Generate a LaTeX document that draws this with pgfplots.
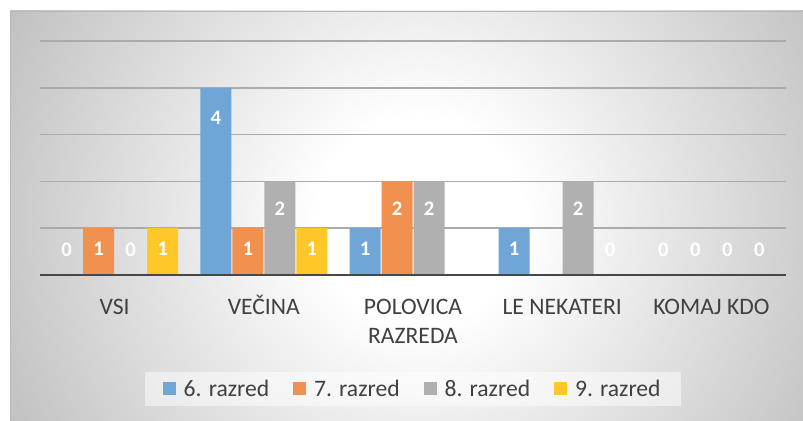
\documentclass[border=0pt]{standalone}
\usepackage{pgfplots}
\pgfplotsset{compat=1.18}
\usepackage{fontspec}
\setmainfont{Carlito}
\definecolor{c6}{HTML}{70A5D8}
\definecolor{c7}{HTML}{F0914F}
\definecolor{c8}{HTML}{B0B0B0}
\definecolor{c9}{HTML}{FFC828}
\definecolor{txt}{HTML}{404040}
\pgfdeclareradialshading{chartbg}{\pgfpoint{0bp}{0bp}}{color(0bp)=(white); color(5.5bp)=(white); color(25bp)=(black!25); color(50bp)=(black!25)}
\pgfplotsset{
  mylabels/.style={
    nodes near coords,
    visualization depends on={rawy \as \rawy},
    every node near coord/.append style={anchor=center, text=white,
      font=\fontsize{15.5}{18}\bfseries\selectfont,
      yshift={\rawy<0.5 ? 18.75 : (\rawy<1.5 ? -15.75 : (\rawy<2.5 ? -20.6 : -22.5))}},
  },
}
\begin{document}
\begin{tikzpicture}
\path[use as bounding box] (0pt,0pt) rectangle (602.25pt,315.75pt);
\begin{scope}
\clip (7.5pt,0pt) rectangle (602.25pt,307.5pt);
\shade[shading=chartbg] (315pt,150.75pt) circle [radius=352.5pt];
\end{scope}
\draw[black!28, line width=0.75pt] (7.8pt,0pt) -- (7.8pt,307.2pt) -- (602.25pt,307.2pt);
\begin{axis}[
  at={(30pt,109.5pt)}, anchor=south west,
  width=559.5pt, height=175.5pt, scale only axis,
  xmin=-0.5, xmax=4.5, ymin=0, ymax=5,
  ybar=0.75pt, bar width=23.25pt,
  axis line style={draw=none},
  ymajorgrids, ytick={1,2,3,4}, yticklabels={},
  extra y ticks={5}, extra y tick labels={},
  extra y tick style={grid style={draw=black!16, line width=1.1pt}},
  major grid style={draw=black!33, line width=1.1pt},
  xtick={0,...,4},
  xticklabels={VSI,VEČINA,{POLOVICA\\RAZREDA},LE NEKATERI,KOMAJ KDO},
  typeset ticklabels with strut,
  xticklabel style={align=center, font=\fontsize{17.7}{22}\selectfont, text=txt, anchor=north, yshift=-10.6pt},
  major tick length=0pt,
  clip=false,
  /pgf/number format/assume math mode=true,
  legend columns=4,
  legend style={at={(0.5,-0.487)}, anchor=center, draw=none, fill=white, fill opacity=0.5, text opacity=1,
    font=\fontsize{17.7}{21}\selectfont, text=txt, inner xsep=13pt, inner ysep=4pt,
    /tikz/every odd column/.append style={column sep=4pt},
    /tikz/every even column/.append style={column sep=16pt}},
  every axis plot/.append style={legend image code/.code={\fill[##1, fill opacity=1] (0pt,-4.9pt) rectangle (9.75pt,4.9pt);}},
]
\addplot[fill=c6, draw=none, mylabels] coordinates {(0,0) (1,4) (2,1) (3,1) (4,0)};
\addplot[fill=c7, draw=none, mylabels] coordinates {(0,1) (1,1) (2,2) (4,0)};
\addplot[fill=c8, draw=none, mylabels] coordinates {(0,0) (1,2) (2,2) (3,2) (4,0)};
\addplot[fill=c9, draw=none, mylabels] coordinates {(0,1) (1,1) (3,0) (4,0)};
\legend{6. razred, 7. razred, 8. razred, 9. razred}
\draw[black!72, line width=2.2pt] (axis cs:-0.5,0) -- (axis cs:4.5,0);
\end{axis}
\end{tikzpicture}
\end{document}
